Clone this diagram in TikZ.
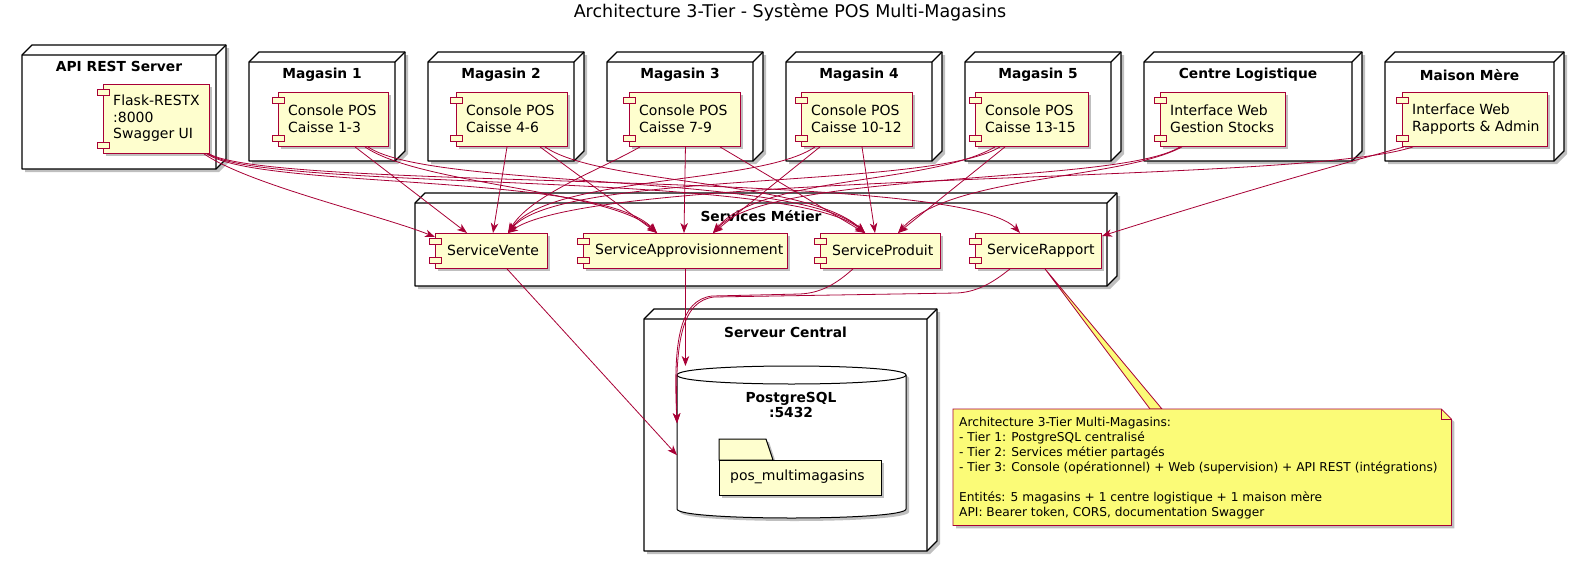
\documentclass[tikz,border=0pt]{standalone}
\usepackage{fontspec}
\setmainfont{DejaVu Sans}
\usetikzlibrary{shadows,arrows.meta,calc}
\definecolor{pred}{HTML}{A80036}
\definecolor{pyel}{HTML}{FEFECE}
\definecolor{pnote}{HTML}{FBFB77}

\newcommand\boxthreed[7]{% name, L, T, R, B, title, titleY
  \path[box3d, shad] (#2,#3) -- (#2+10,#3-10) -- (#4+10,#3-10) -- (#4+10,#5-10) -- (#4,#5) -- (#2,#5) -- cycle;
  \draw[line width=1.3pt, line join=round] (#2,#3) -- (#4,#3) -- (#4+10,#3-10) (#4,#3) -- (#4,#5);
  \node[ntitle] (#1) at ({(#2+#4)/2},#7) {#6};
}
\newcommand\pcomp[6]{% name, x, y, w, h, text
  \node[compbox, minimum width=#4pt, minimum height=#5pt] (#1) at (#2,#3) {};
  \draw[tab] (#2-6,#3+5) rectangle ++(12,6);
  \draw[tab] (#2-6,#3+#5-11) rectangle ++(12,6);
  \node[comptext] (#1-t) at (#2+10,{#3+#5/2}) {#6};
}
\newcommand\scomp[6]{% name, x, y, w, h, text
  \node[compbox, minimum width=#4pt, minimum height=#5pt] (#1) at (#2,#3) {};
  \draw[tab] (#2-6,#3+5) rectangle ++(12,6);
  \draw[tab] (#2-6,#3+#5-11) rectangle ++(12,6);
  \node[comptext] (#1-t) at (#2+12,{#3+#5/2}) {#6};
}

\begin{document}
\begin{tikzpicture}[x=1pt,y=-1pt,
  shad/.style={drop shadow={shadow xshift=3pt,shadow yshift=-3pt,opacity=0.25,fill=black}},
  box3d/.style={draw=black, line width=1.3pt, fill=white, line join=round},
  ntitle/.style={font=\bfseries\fontsize{13.8}{16}\selectfont, inner sep=0pt},
  compbox/.style={draw=pred, fill=pyel, line width=0.9pt, anchor=north west, inner sep=0pt, shad},
  comptext/.style={anchor=west, align=left, inner sep=0pt, font=\fontsize{14}{16.5}\selectfont},
  tab/.style={draw=pred, fill=pyel, line width=0.9pt},
  edge/.style={draw=pred, line width=0.8pt, -{Stealth[length=10pt,width=7.5pt,inset=3pt]}},
]
\fill[white] (0,0) rectangle (1584,562);
\useasboundingbox (0,0) rectangle (1584,562);

\node[font=\fontsize{17.5}{20}\selectfont] (title) at (790,12) {Architecture 3-Tier - Système POS Multi-Magasins};

% ---- top row nodes
\boxthreed{napi}{22}{55}{216}{169}{API REST Server}{66}
\boxthreed{nm1}{249}{62}{395}{161}{Magasin 1}{75}
\boxthreed{nm2}{428}{62}{574}{161}{Magasin 2}{75}
\boxthreed{nm3}{607}{62}{753}{161}{Magasin 3}{75}
\boxthreed{nm4}{786}{62}{932}{161}{Magasin 4}{75}
\boxthreed{nm5}{965}{62}{1111}{161}{Magasin 5}{75}
\boxthreed{ncl}{1144}{62}{1352}{161}{Centre Logistique}{75}
\boxthreed{nmm}{1385}{62}{1554}{161}{Maison Mère}{75}

\pcomp{api}{103}{84}{106}{69}{Flask-RESTX\\:8000\\Swagger UI}
\pcomp{c1}{278}{92}{110}{54}{Console POS\\Caisse 1-3}
\pcomp{c2}{456}{92}{111}{54}{Console POS\\Caisse 4-6}
\pcomp{c3}{629}{92}{111}{54}{Console POS\\Caisse 7-9}
\pcomp{c4}{801}{92}{111}{54}{Console POS\\Caisse 10-12}
\pcomp{c5}{975}{92}{113}{54}{Console POS\\Caisse 13-15}
\pcomp{cl}{1160}{92}{125}{54}{Interface Web\\Gestion Stocks}
\pcomp{mm}{1402}{92}{145}{54}{Interface Web\\Rapports \& Admin}

% ---- services
\boxthreed{nsvc}{415}{203}{1107}{286}{Services Métier}{216}
\scomp{vente}{435}{233}{112}{35}{ServiceVente}
\scomp{appro}{583}{233}{204}{35}{ServiceApprovisionnement}
\scomp{produit}{820}{233}{120}{35}{ServiceProduit}
\scomp{rapport}{975}{233}{126}{35}{ServiceRapport}

% ---- server
\boxthreed{nsrv}{644}{319}{927}{551}{Serveur Central}{332}
\node[anchor=north west, minimum width=229pt, minimum height=152pt, inner sep=0pt] (db) at (677,366) {};
\path[draw=black, line width=1pt, fill=white, shad] (677,375) -- (677,509) .. controls (677,521) and (906,521) .. (906,509) -- (906,375) .. controls (906,363) and (677,363) .. (677,375) -- cycle;
\draw[line width=1pt] (677,375) .. controls (677,387) and (906,387) .. (906,375);
\node[font=\bfseries\fontsize{13.8}{15.5}\selectfont, align=center, inner sep=0pt] (dbl) at (791,405) {PostgreSQL\\:5432};
\path[draw=black, line width=1pt, fill=pyel, shad] (719,460) -- (719,439) -- (766,439) -- (773,460) -- cycle;
\path[draw=black, line width=1pt, fill=pyel, shad] (719,460) rectangle (881,495);
\node[comptext] (folder) at (730,477) {pos\_multimagasins};

% ---- edges from API
\draw[edge] ([xshift=101pt]api.south west) .. controls (250,185) and (380,215) .. ([yshift=-4pt]vente.north west);
\draw[edge] ([xshift=104pt]api.south west) .. controls (260,190) and (600,172) .. ([xshift=74pt]appro.north west);
\draw[edge] ([xshift=105pt]api.south west) .. controls (270,192) and (790,170) .. ([xshift=45pt]produit.north west);
\draw[edge] ([xshift=106pt]api.south west) .. controls (280,192) and (960,168) .. ([xshift=45pt]rapport.north west);

% ---- Magasin 1
\draw[edge] ([xshift=77pt]c1.south west) -- ([xshift=32pt]vente.north west);
\draw[edge] ([xshift=87pt]c1.south west) .. controls (420,185) and (610,190) .. ([xshift=74pt]appro.north west);
\draw[edge] ([xshift=90pt]c1.south west) .. controls (430,190) and (800,172) .. ([xshift=45pt]produit.north west);
% ---- Magasin 2
\draw[edge] ([xshift=51pt]c2.south west) -- ([xshift=58pt]vente.north west);
\draw[edge] ([xshift=84pt]c2.south west) -- ([xshift=74pt]appro.north west);
\draw[edge] ([xshift=89pt]c2.south west) .. controls (600,185) and (810,180) .. ([xshift=45pt]produit.north west);
% ---- Magasin 3
\draw[edge] ([xshift=11pt]c3.south west) .. controls (600,170) and (530,195) .. ([xshift=73pt]vente.north west);
\draw[edge] (c3.south -| appro.north) -- ([xshift=101pt]appro.north west);
\draw[edge] ([xshift=91pt]c3.south west) -- ([xshift=45pt]produit.north west);
% ---- Magasin 4
\draw[edge] ([xshift=14pt]c4.south west) .. controls (760,185) and (550,175) .. ([xshift=73pt]vente.north west);
\draw[edge] ([xshift=19pt]c4.south west) -- ([xshift=130pt]appro.north west);
\draw[edge] ([xshift=61pt]c4.south west) -- ([xshift=55pt]produit.north west);
% ---- Magasin 5
\draw[edge] ([xshift=25pt]c5.south west) .. controls (930,190) and (560,170) .. ([xshift=73pt]vente.north west);
\draw[edge] ([xshift=20pt]c5.south west) .. controls (930,185) and (760,175) .. ([xshift=130pt]appro.north west);
\draw[edge] ([xshift=30pt]c5.south west) -- ([xshift=78pt]produit.north west);
% ---- Centre logistique
\draw[edge] ([xshift=20pt]cl.south west) .. controls (1120,185) and (770,170) .. ([xshift=130pt]appro.north west);
\draw[edge] ([xshift=22pt]cl.south west) .. controls (1120,180) and (950,175) .. ([xshift=78pt]produit.north west);
% ---- Maison mere
\draw[edge] ([xshift=2pt]mm.south west) .. controls (1300,175) and (1200,205) .. ([yshift=-3pt]rapport.north east);
\draw[edge] ([xshift=11pt]mm.south west) .. controls (1300,185) and (600,170) .. ([xshift=73pt]vente.north west);

% ---- services to database
\draw[edge] ([xshift=72pt]vente.south west) -- ([yshift=-13pt]db.west);
\draw[edge] (appro.south) -- (appro.south |- db.north);
\draw[edge] ([xshift=33pt]produit.south west) .. controls (835,285) and (820,293) .. (800,294) -- (712,296) .. controls (680,300) and (673,340) .. ([yshift=19pt]db.west);
\draw[edge] ([xshift=35pt]rapport.south west) .. controls (990,285) and (975,292) .. (957,293) -- (714,297) .. controls (682,301) and (675,340) .. ([yshift=19pt]db.west);

% ---- note
\node[anchor=north west, minimum width=498pt, minimum height=116pt, inner sep=0pt] (note) at (953,409) {};
\path[draw=pred, fill=pnote, line width=0.8pt] ([xshift=70pt]rapport.south west) -- (1150,409) -- (1162,409) -- cycle;
\path[draw=pred, fill=pnote, line width=0.8pt, shad] (note.north west) -- ([xshift=-10pt]note.north east) -- ([yshift=-10pt]note.north east) -- (note.south east) -- (note.south west) -- cycle;
\draw[pred, line width=0.8pt] ([xshift=-10pt]note.north east) -- ([xshift=-10pt,yshift=-10pt]note.north east) -- ([yshift=-10pt]note.north east);
\node[anchor=west, align=left, inner sep=0pt, font=\fontsize{12.2}{15.1}\selectfont] (notetext) at (959,468) {Architecture 3-Tier Multi-Magasins:\\- Tier 1: PostgreSQL centralisé\\- Tier 2: Services métier partagés\\- Tier 3: Console (opérationnel) + Web (supervision) + API REST (intégrations)\\[15.1pt]Entités: 5 magasins + 1 centre logistique + 1 maison mère\\API: Bearer token, CORS, documentation Swagger};
\end{tikzpicture}
\end{document}
